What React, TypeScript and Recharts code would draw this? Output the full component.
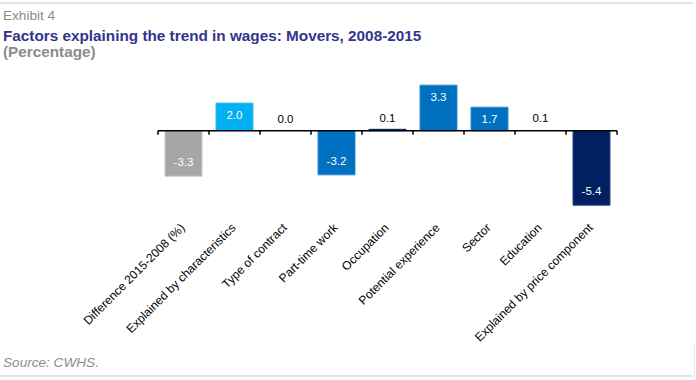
import React from 'react';
import { ComposedChart, Bar, XAxis, YAxis, Cell, LabelList, ReferenceLine } from 'recharts';

const categories = [
  'Difference 2015-2008 (%)',
  'Explained by characteristics',
  'Type of contract',
  'Part-time work',
  'Occupation',
  'Potential experience',
  'Sector',
  'Education',
  'Explained by price component',
];
const values = [-3.3, 2.0, 0.0, -3.2, 0.1, 3.3, 1.7, 0.1, -5.4];
const barColors = ['#A6A6A6', '#00B0F0', 'transparent', '#0070C0', '#002060', '#0070C0', '#0070C0', 'transparent', '#002060'];
const barStrokes = ['#C9C9C9', '#33C0F3', 'none', '#3389CD', '#002060', '#3389CD', '#3389CD', 'none', '#33467F'];
const yDomain = [-6, 4];
const tickDepth = -0.3;

const data = categories.map((name, i) => ({ name, value: values[i] }));

const FONT = '"Liberation Sans", Arial, sans-serif';

const CatTick = (props: any) => {
  const { x, y, payload } = props;
  const ax = x + 2;
  const ay = y + 7;
  return (
    <text
      x={ax}
      y={ay}
      transform={`rotate(-45, ${ax}, ${ay})`}
      textAnchor="end"
      fontSize={12}
      fontFamily={FONT}
      fill="#000"
    >
      {payload.value}
    </text>
  );
};

const ValueLabel = (props: any) => {
  const { x, y, width, height, value } = props;
  const top = Math.min(y, y + height);
  const bottom = Math.max(y, y + height);
  const h = bottom - top;
  const cx = x + width / 2;
  let ty: number;
  let fill = '#fff';
  if (h < 20) {
    ty = Math.min(top, bottom - 1) - 7;
    fill = '#000';
  } else if (value >= 0) {
    ty = top + 16;
  } else {
    ty = bottom - 10;
  }
  return (
    <text x={cx} y={ty} textAnchor="middle" fontSize={11.5} fontFamily={FONT} fill={fill}>
      {Number(value).toFixed(1)}
    </text>
  );
};

export default function App() {
  return (
    <div style={{ position: 'absolute', left: 0, top: 0, width: 696, height: 380, background: '#fff', fontFamily: FONT }}>
      <div style={{ position: 'absolute', left: 0, top: 2, width: 693, height: 2, background: '#E3E3E3' }} />
      <div style={{ position: 'absolute', left: 0, top: 375, width: 693, height: 2, background: '#E3E3E3' }} />
      <div style={{ position: 'absolute', left: 694, top: 345, width: 1, height: 35, background: '#E8E8E8' }} />
      <div style={{ position: 'absolute', left: 3, top: 8, fontSize: 13.6, lineHeight: '16px', color: '#8C8C8C', whiteSpace: 'nowrap' }}>
        Exhibit 4
      </div>
      <div style={{ position: 'absolute', left: 3, top: 27, fontSize: 15.3, lineHeight: '18px', fontWeight: 'bold', color: '#34348C', whiteSpace: 'nowrap' }}>
        Factors explaining the trend in wages: Movers, 2008-2015
      </div>
      <div style={{ position: 'absolute', left: 3, top: 43, fontSize: 15.3, lineHeight: '18px', fontWeight: 'bold', color: '#8C8C8C', whiteSpace: 'nowrap' }}>
        (Percentage)
      </div>
      <div style={{ position: 'absolute', left: 3, top: 355, fontSize: 13.6, lineHeight: '16px', fontStyle: 'italic', color: '#8C8C8C', whiteSpace: 'nowrap' }}>
        Source: CWHS.
      </div>
      <div style={{ position: 'absolute', left: 0, top: 0 }}>
        <ComposedChart
          width={696}
          height={380}
          data={data}
          margin={{ top: 75.5, right: 79, bottom: 136.5, left: 158 }}
        >
          <XAxis
            dataKey="name"
            type="category"
            interval={0}
            axisLine={false}
            tickLine={false}
            height={30}
            tick={<CatTick />}
          />
          <YAxis hide domain={yDomain} allowDataOverflow />
          <Bar
            dataKey="value"
            barSize={37}
            isAnimationActive={false}
            minPointSize={(v: any) => (v === 0 ? 1 : 0)}
          >
            {data.map((d, i) => (
              <Cell key={i} fill={barColors[i]} stroke={barStrokes[i]} strokeWidth={1} />
            ))}
            <LabelList dataKey="value" content={<ValueLabel />} />
          </Bar>
          <ReferenceLine y={0} stroke="#000" strokeWidth={1.5} ifOverflow="visible" />
          {categories.map((c) => (
            <ReferenceLine
              key={c}
              segment={[{ x: c, y: 0 }, { x: c, y: tickDepth }]}
              position="start"
              stroke="#000"
              strokeWidth={1.5}
              ifOverflow="visible"
            />
          ))}
          <ReferenceLine
            segment={[
              { x: categories[categories.length - 1], y: 0 },
              { x: categories[categories.length - 1], y: tickDepth },
            ]}
            position="end"
            stroke="#000"
            strokeWidth={1.5}
            ifOverflow="visible"
          />
        </ComposedChart>
      </div>
    </div>
  );
}
